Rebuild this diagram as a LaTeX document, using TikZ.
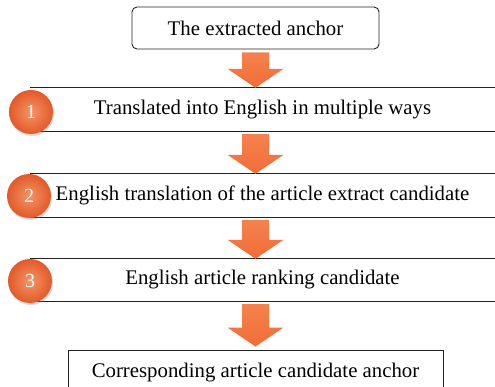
\documentclass[tikz,border=0pt]{standalone}
\usepackage{fontspec}
\setmainfont{Liberation Serif}
\usepackage{tikz}
\usetikzlibrary{calc,shadows}
\definecolor{ink}{HTML}{222222}
\definecolor{arrowor}{HTML}{F26C36}
\definecolor{arrowlt}{HTML}{F5824E}
\definecolor{ballor}{HTML}{E25A28}
\definecolor{balllt}{HTML}{F59467}
\tikzset{
  startbox/.style={draw=ink,line width=0.9pt,rounded corners=5pt,
                   minimum width=247pt,minimum height=42pt,font=\fontsize{20.8}{23}\selectfont},
  band/.style    ={minimum width=465pt,minimum height=43pt,inner sep=0pt,
                   font=\fontsize{20.8}{23}\selectfont},
  endbox/.style  ={draw=ink,line width=0.9pt,minimum width=375pt,minimum height=46pt,
                   font=\fontsize{20.8}{23}\selectfont},
  numball/.style ={circle,minimum size=44pt,inner sep=0pt,text=white,
                   inner color=balllt,outer color=ballor,
                   drop shadow={opacity=0.3,shadow xshift=1pt,shadow yshift=-2pt},
                   font=\fontsize{20}{22}\selectfont},
  fatarrow/.style={top color=arrowlt,bottom color=arrowor,draw=none}
}
% block arrow from the bottom of #2 down to the top of #3, tip #1 above it
\newcommand\flowarrow[3][0pt]{%
  \path[fatarrow] let \p1=(#2.south), \p2=(#3.north), \p3=(top.south) in
    (\x3-13.5pt,\y1-3pt) -- (\x3+13.5pt,\y1-3pt) -- (\x3+13.5pt,\y2+#1+19pt)
    -- (\x3+28pt,\y2+#1+19pt) -- (\x3,\y2+#1) -- (\x3-28pt,\y2+#1+19pt)
    -- (\x3-13.5pt,\y2+#1+19pt) -- cycle;}

\begin{document}
\begin{tikzpicture}[x=1pt,y=1pt]
  \useasboundingbox (0,0) rectangle (495,387);

  \node[startbox] (top) at (255.5,359) {The extracted anchor};
  \node[band] (b1) at (262.5,277.5) {Translated into English in multiple ways};
  \node[band] (b2) at (262.5,191.5) {English translation of the article extract candidate};
  \node[band,minimum height=42pt] (b3) at (262.5,107) {English article ranking candidate};
  \node[endbox] (last) at (255.5,14) {Corresponding article candidate anchor};

  % band rules
  \foreach \b in {b1,b2,b3}
    \draw[ink,line width=1.1pt] (\b.north west) -- (\b.north east)
                                (\b.south west) -- (\b.south east);

  \flowarrow{top}{b1}
  \flowarrow{b1}{b2}
  \flowarrow{b2}{b3}
  \flowarrow[3pt]{b3}{last}

  \node[numball] (n1) at (31,275) {1};
  \node[numball] (n2) at (29,191) {2};
  \node[numball] (n3) at (30,106) {3};
\end{tikzpicture}
\end{document}
